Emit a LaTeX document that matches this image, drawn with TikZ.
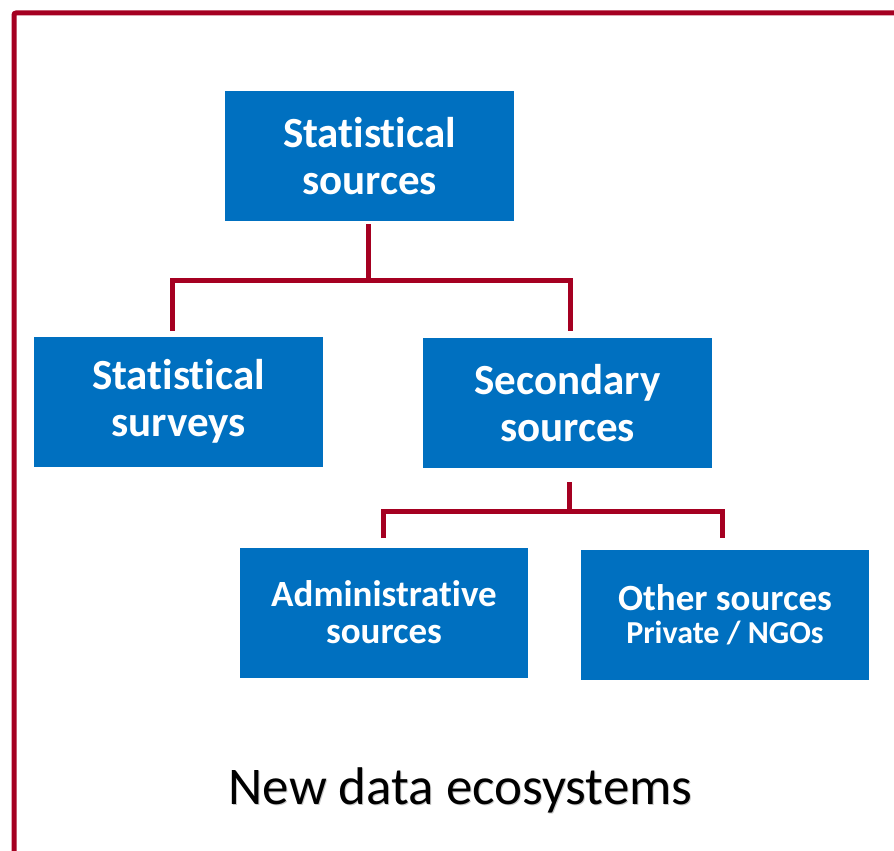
\documentclass[tikz,border=0pt]{standalone}
\usepackage{fontspec}
\setmainfont{Carlito}[Ligatures=NoCommon]
\definecolor{boxblue}{HTML}{0070C0}
\definecolor{linered}{HTML}{A50021}
\tikzset{
  stepbox/.style={fill=boxblue, text=white, inner sep=0pt, align=center,
    minimum width=289pt, minimum height=130pt},
  bigtext/.style={font=\bfseries\fontsize{43}{46.5}\selectfont},
  midtext/.style={font=\bfseries\fontsize{37}{37}\selectfont},
  conn/.style={draw=linered, line width=5pt, line join=miter},
  frame/.style={draw=linered, line width=5pt, rounded corners=2pt},
}
\begin{document}
\begin{tikzpicture}[x=1pt, y=-1pt]
  \useasboundingbox (0,0) rectangle (894,851);
  % outer frame (open to the right and bottom)
  \draw[frame] (14,860) -- (14,13) -- (900,13);

  % boxes
  \node[stepbox, bigtext] (stat) at (369.5,156) {Statistical\\sources};
  \node[stepbox, bigtext] (surv) at (178.5,401.5) {Statistical\\surveys};
  \node[stepbox, bigtext] (sec) at (567.5,403) {Secondary\\sources};
  \node[stepbox, midtext, minimum width=288pt] (adm) at (384,612.5)
    {Administrative\\sources};
  \node[stepbox, midtext, minimum width=288pt] (oth) at (725,615)
    {Other sources\\[-4pt]{\fontsize{32}{32}\selectfont Private / NGOs}};

  % tree connectors
  \coordinate (j1) at (368,280);
  \coordinate (d1) at (172,331);
  \coordinate (d2) at (570,331);
  \draw[conn] (stat.south) ++(-1.5,3) -- (j1);
  \draw[conn] (d1) |- (j1) -| (d2);

  \coordinate (j2) at (569,511);
  \coordinate (d3) at (383,538);
  \coordinate (d4) at (722,538);
  \draw[conn] (sec.south) ++(1.5,14) -- (j2);
  \draw[conn] (d3) |- (j2) -| (d4);

  % caption with soft shadow
  \node[text=black!22, anchor=base, font=\fontsize{53}{60}\selectfont] (capshadow) at (461.5,805.2) {New data ecosystems};
  \node[text=black, anchor=base, font=\fontsize{53}{60}\selectfont] (caption) at (460.5,804) {New data ecosystems};
\end{tikzpicture}
\end{document}
